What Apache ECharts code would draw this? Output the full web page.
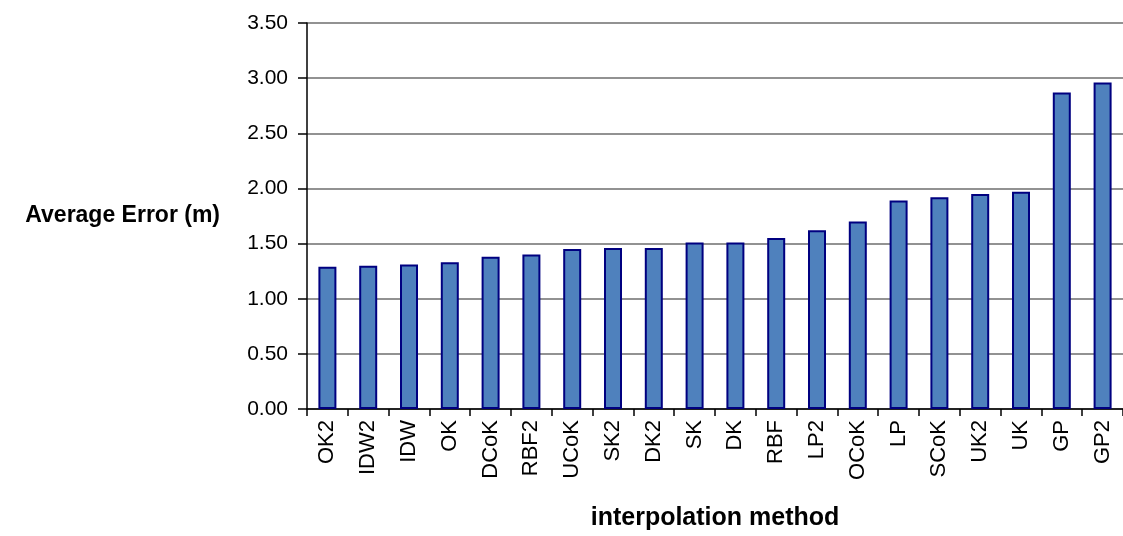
<!DOCTYPE html>
<html><head><meta charset="utf-8">
<script src="https://cdn.jsdelivr.net/npm/echarts@6/dist/echarts.min.js"></script>
<style>html,body{margin:0;padding:0;background:#fff}#c{width:1123px;height:536px}</style>
</head><body><div id="c"></div>
<script>
var categories = ["OK2","IDW2","IDW","OK","DCoK","RBF2","UCoK","SK2","DK2","SK","DK","RBF","LP2","OCoK","LP","SCoK","UK2","UK","GP","GP2"];
var averageError = [1.29,1.30,1.31,1.33,1.38,1.40,1.45,1.46,1.46,1.51,1.51,1.55,1.62,1.70,1.89,1.92,1.95,1.97,2.87,2.96];
var chart = echarts.init(document.getElementById('c'));
chart.setOption({
  animation: false,
  backgroundColor: '#fff',
  grid: {left: 307, right: 0, top: 23, bottom: 122},
  xAxis: {
    type: 'category', data: categories,
    name: 'interpolation method', nameLocation: 'middle', nameGap: 97,
    nameTextStyle: {fontFamily: 'Liberation Sans', fontWeight: 'bold', fontSize: 25, color: '#000'},
    axisLine: {lineStyle: {color: '#000', width: 1.5}},
    axisTick: {show: true, length: 7, lineStyle: {color: '#000', width: 1.5}},
    axisLabel: {rotate: 90, fontFamily: 'Liberation Sans', fontSize: 22, color: '#000', margin: 11}
  },
  yAxis: {
    type: 'value', min: 0, max: 3.5, interval: 0.5,
    name: 'Average Error (m)', nameLocation: 'middle', nameRotate: 0, nameGap: 87,
    nameTextStyle: {fontFamily: 'Liberation Sans', fontWeight: 'bold', fontSize: 23, color: '#000', align: 'right', verticalAlign: 'middle', padding: [0,0,10,0]},
    axisLine: {show: true, lineStyle: {color: '#000', width: 1.5}},
    axisTick: {show: true, length: 9, lineStyle: {color: '#000', width: 1.5}},
    axisLabel: {fontFamily: 'Liberation Sans', fontSize: 21, color: '#000', margin: 19,
      formatter: function(v){return v.toFixed(2);}},
    splitLine: {lineStyle: {color: '#6e6e6e', width: 1.5}}
  },
  series: [{
    type: 'bar', data: averageError, barWidth: 18,
    itemStyle: {color: '#4F81BD', borderColor: '#000080', borderWidth: 2}
  }]
});
</script></body></html>
